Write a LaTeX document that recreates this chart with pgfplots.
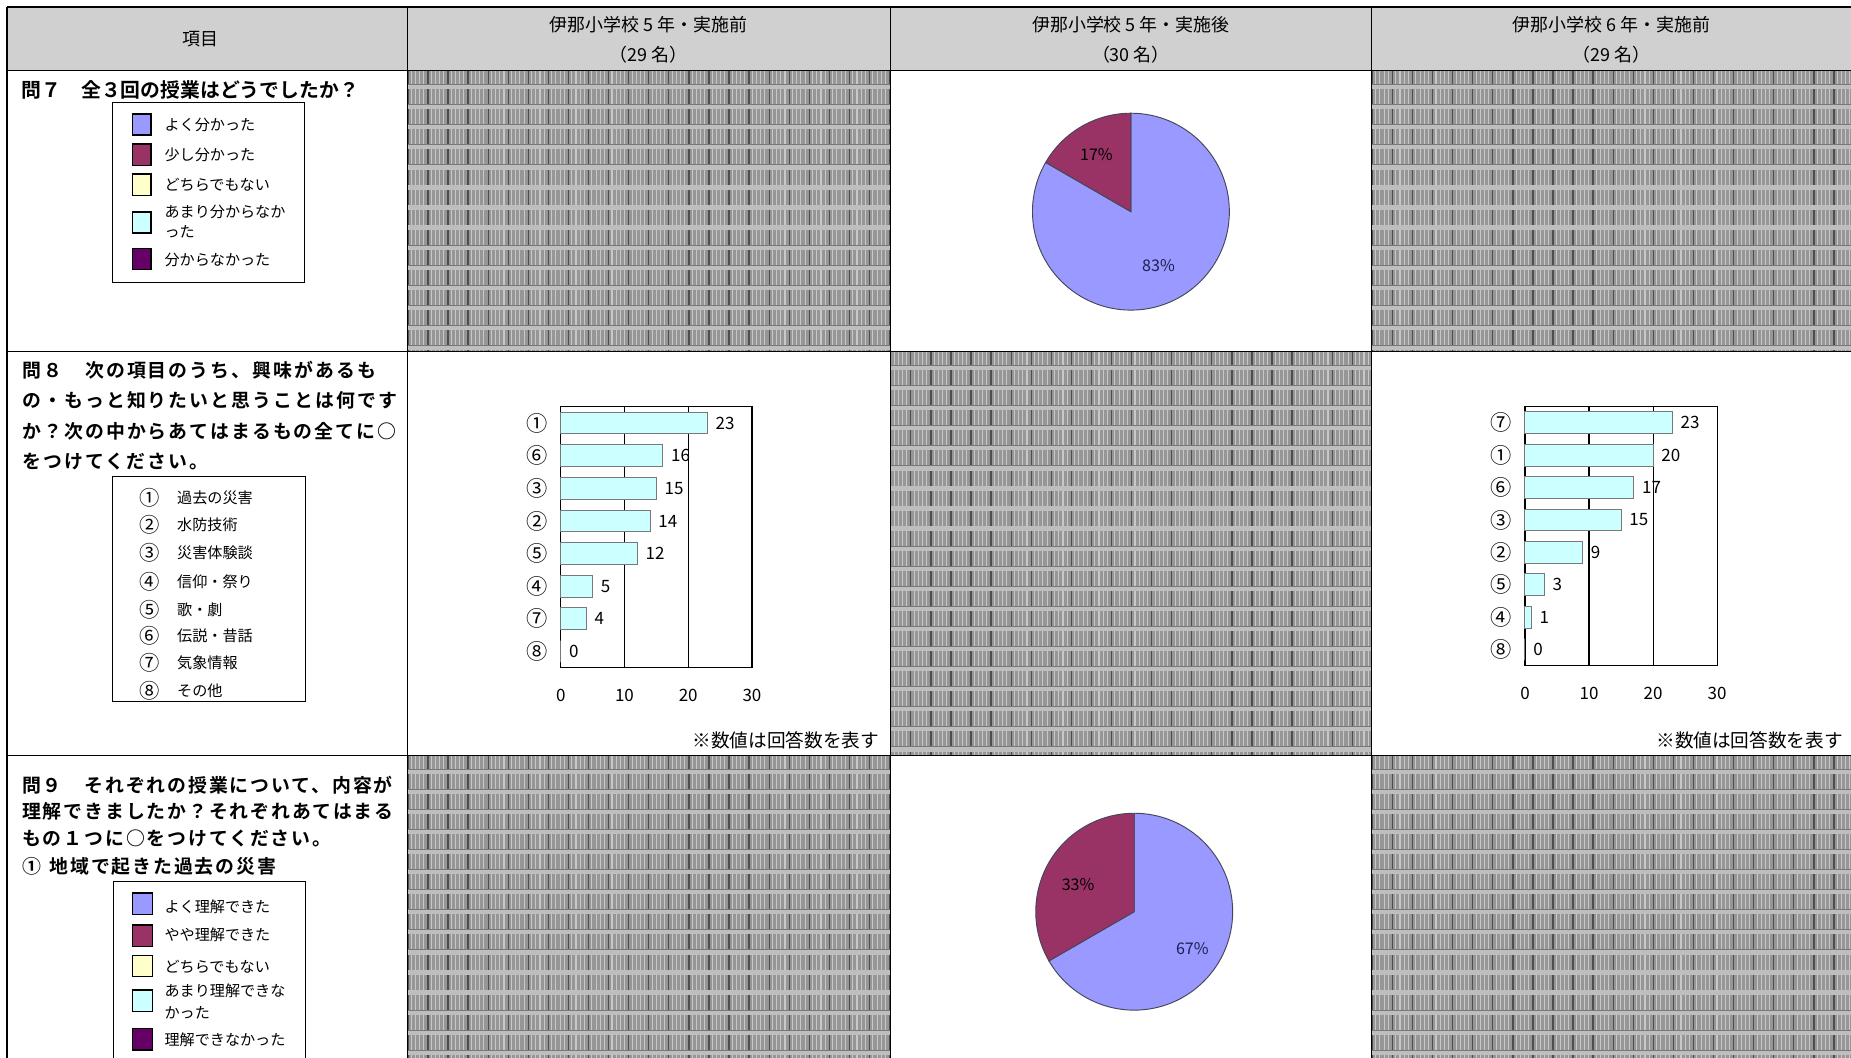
\documentclass[border=0pt]{standalone}
\usepackage{fontspec}
\setmainfont{Noto Sans CJK JP}
\newfontfamily\qb{Noto Sans CJK JP Bold}
\newfontfamily\qbA{Noto Sans CJK JP Bold}[LetterSpace=11]
\newfontfamily\qbB{Noto Sans CJK JP Bold}[LetterSpace=10]
\usepackage{pgfplots}
\pgfplotsset{compat=1.18}
\usepackage{pgfplotstable}

\definecolor{hdr}{RGB}{208,208,208}
\definecolor{pblue}{RGB}{153,153,255}
\definecolor{pmaroon}{RGB}{153,51,102}
\definecolor{pyellow}{RGB}{255,255,204}
\definecolor{pcyan}{RGB}{204,255,255}
\definecolor{ppurple}{RGB}{102,0,102}
\definecolor{bargray}{RGB}{120,120,120}
\definecolor{pedge}{RGB}{70,70,90}
\definecolor{navy}{RGB}{30,30,80}
\definecolor{patbase}{RGB}{150,150,150}
\definecolor{patdark}{RGB}{78,78,78}
\definecolor{patlight}{RGB}{200,200,200}
\definecolor{patband}{RGB}{190,190,190}
\definecolor{patbandedge}{RGB}{120,120,120}

\pgfplotstableread{
y lab val
0 ① 23
1 ⑥ 16
2 ③ 15
3 ② 14
4 ⑤ 12
5 ④ 5
6 ⑦ 4
7 ⑧ 0
}\barA
\pgfplotstableread{
y lab val
0 ⑦ 23
1 ① 20
2 ⑥ 17
3 ③ 15
4 ② 9
5 ⑤ 3
6 ④ 1
7 ⑧ 0
}\barB

\newcommand{\hatchcell}[4]{%
 \begin{scope}
 \clip (#1,#2) rectangle (#3,#4);
 \fill[patbase] (#1,#2) rectangle (#3,#4);
 \foreach \i in {0,...,24} {
   \pgfmathsetmacro\xx{#1+17*\i}
   \fill[patdark] (\xx,#2) rectangle ({\xx+1.1},#4);
   \fill[patlight] ({\xx+3},#2) rectangle ({\xx+3.9},#4);
   \fill[patlight] ({\xx+6.5},#2) rectangle ({\xx+7.4},#4);
   \fill[patlight] ({\xx+10},#2) rectangle ({\xx+10.9},#4);
   \fill[patlight] ({\xx+13.5},#2) rectangle ({\xx+14.4},#4);
 }
 \foreach \j in {0,...,20} {
   \pgfmathsetmacro\yy{#2+17*\j}
   \fill[patbandedge] (#1,{\yy+11.3}) rectangle (#3,{\yy+12});
   \fill[patband] (#1,{\yy+12}) rectangle (#3,{\yy+15.6});
 }
 \end{scope}}

\newcommand{\pieslice}[4]{%
 \filldraw[fill=#4,draw=pedge,line width=0.4pt] (axis cs:0,0) -- ++(#1:41.7pt)
   arc[start angle=#1, delta angle={-360*#2/#3}, radius=41.7pt] -- cycle;}

\tikzset{
 hd/.style={font=\fontsize{7.6}{9}\selectfont, inner sep=0pt, text height=6.7pt, text depth=0.9pt},
 lg/.style={font=\fontsize{6.4}{7.5}\selectfont, inner sep=0pt, anchor=west, text height=5.6pt, text depth=0.8pt},
 cn/.style={font=\fontsize{8.6}{9}\selectfont, inner sep=0pt, text height=7.5pt, text depth=1pt},
 sw/.style={draw=black, line width=0.6pt},
 pielbl/.style={font=\fontsize{6.8}{8}\selectfont, inner sep=0pt},
}

\begin{document}
\begin{tikzpicture}
\useasboundingbox (0,0) rectangle (784pt,448pt);
\clip (0,0) rectangle (784pt,448pt);
\begin{scope}[x=0.5pt,y=-0.5pt,shift={(0pt,448pt)}]
 % header
 \fill[hdr] (6,6) rectangle (1570,60);
 % hatched cells
 \hatchcell{345}{60}{754}{298}
 \hatchcell{1162}{60}{1570}{298}
 \hatchcell{754}{298}{1162}{640}
 \hatchcell{345}{640}{754}{900}
 \hatchcell{1162}{640}{1570}{900}
 % grid lines
 \draw[black, line width=0.5pt] (6,6) -- (1570,6);
 \draw[black, line width=0.5pt] (6,60) -- (1570,60);
 \draw[black, line width=0.5pt] (6,298) -- (1570,298);
 \draw[black, line width=0.5pt] (6,640) -- (1570,640);
 \foreach \cx in {6,345,754,1162} { \draw[black, line width=0.5pt] (\cx,6) -- (\cx,900); }
 % header text
 \node[hd] at (170,33) {項目};
 \node[hd] at (549.5,21) {伊那小学校 5 年・実施前};
 \node[hd] at (549.5,46.6) {（29 名）};
 \node[hd] at (958,21) {伊那小学校 5 年・実施後};
 \node[hd] at (958,46.6) {（30 名）};
 \node[hd] at (1365,21) {伊那小学校 6 年・実施前};
 \node[hd] at (1365,46.6) {（29 名）};
 % question 7
 \node[font=\qb\fontsize{8.4}{10}\selectfont, inner sep=0pt, anchor=west, text height=7.4pt, text depth=1pt] at (18,76) {問７　全３回の授業はどうでしたか？};
 \draw[black, line width=0.4pt] (95,87) rectangle (258,239);
 \fill[pblue,sw] (112,96.5) rectangle (128,114.5);
 \fill[pmaroon,sw] (112,122) rectangle (128,140);
 \fill[pyellow,sw] (112,147.5) rectangle (128,165.5);
 \fill[pcyan,sw] (112,179.5) rectangle (128,197.5);
 \fill[ppurple,sw] (112,210.5) rectangle (128,228.5);
 \node[lg] at (139,105.9) {よく分かった};
 \node[lg] at (139,131.3) {少し分かった};
 \node[lg] at (139,156.7) {どちらでもない};
 \node[lg] at (139,179.3) {あまり分からなか};
 \node[lg] at (139,196.8) {った};
 \node[lg] at (139,219.7) {分からなかった};
 % question 8
 \foreach \yy/\tt in {313.4/問８　次の項目のうち、興味があるも, 338.8/の・もっと知りたいと思うことは何です, 365.7/か？次の中からあてはまるもの全てに○, 391/をつけてください。} {
   \node[font=\qbA\fontsize{8}{10}\selectfont, inner sep=0pt, anchor=west, text height=7pt, text depth=1pt] at (18.4,\yy) {\tt};
 }
 \draw[black, line width=0.4pt] (95,404) rectangle (259,594);
 \foreach \yy/\nn/\tt in {421.6/①/過去の災害, 444.7/②/水防技術, 468.2/③/災害体験談, 492.7/④/信仰・祭り, 516.2/⑤/歌・劇, 538.8/⑥/伝説・昔話, 561.9/⑦/気象情報, 585/⑧/その他} {
   \node[cn] at (127,\yy) {\nn};
   \node[lg] at (149.7,\yy) {\tt};
 }
 \node[font=\fontsize{7.9}{9}\selectfont, inner sep=0pt, anchor=east, text height=6.9pt, text depth=1pt] at (745,627.4) {※数値は回答数を表す};
 \node[font=\fontsize{7.9}{9}\selectfont, inner sep=0pt, anchor=east, text height=6.9pt, text depth=1pt] at (1561.5,627.4) {※数値は回答数を表す};
 % question 9
 \foreach \yy/\tt in {665/問９　それぞれの授業について、内容が, 687.6/理解できましたか？それぞれあてはまる, 710/もの１つに○をつけてください。} {
   \node[font=\qbB\fontsize{8}{10}\selectfont, inner sep=0pt, anchor=west, text height=7pt, text depth=1pt] at (18.4,\yy) {\tt};
 }
 \node[font=\qbB\fontsize{8}{10}\selectfont, inner sep=0pt, anchor=west, text height=7pt, text depth=1pt] at (18.4,734) {①\hspace{0.45em}地域で起きた過去の災害};
 \draw[black, line width=0.4pt] (96,747) rectangle (259,910);
 \fill[pblue,sw] (112,756.6) rectangle (129,774.6);
 \fill[pmaroon,sw] (112,783.7) rectangle (129,801.7);
 \fill[pyellow,sw] (112,809.2) rectangle (129,827.2);
 \fill[pcyan,sw] (112,838.8) rectangle (129,856.8);
 \fill[ppurple,sw] (112,871.3) rectangle (129,889.3);
 \node[lg] at (139,768) {よく理解できた};
 \node[lg] at (139,792) {やや理解できた};
 \node[lg] at (139,819) {どちらでもない};
 \node[lg] at (139,839) {あまり理解できな};
 \node[lg] at (139,858) {かった};
 \node[lg] at (139,881) {理解できなかった};
\end{scope}

% ---- bar chart 1 (5年・実施前, 問8)
\begin{axis}[
 at={(237.5pt,165.2pt)}, anchor=south west, scale only axis,
 width=81pt, height=110.5pt,
 xbar, bar width=9.2pt, xmin=0, xmax=30, ymin=-0.5, ymax=7.5, y dir=reverse,
 xtick={0,10,20,30}, ytick={0,...,7}, yticklabels from table={\barA}{lab},
 xmajorgrids, major grid style={black, line width=0.5pt},
 major tick length=0pt, axis line style={black, line width=0.5pt},
 tick label style={font=\fontsize{7.2}{8}\selectfont},
 yticklabel style={font=\fontsize{9}{9}\selectfont},
 /pgf/number format/assume math mode=true,
 xticklabel shift=5.5pt, yticklabel shift=2pt,
 nodes near coords, nodes near coords style={font=\fontsize{7.2}{8}\selectfont, black},
 clip=false,
]
\addplot[fill=pcyan, draw=bargray, line width=0.4pt] table[x=val, y=y]{\barA};
\end{axis}

% ---- bar chart 2 (6年・実施前, 問8)
\begin{axis}[
 at={(645.9pt,166pt)}, anchor=south west, scale only axis,
 width=81.4pt, height=109.8pt,
 xbar, bar width=9.2pt, xmin=0, xmax=30, ymin=-0.5, ymax=7.5, y dir=reverse,
 xtick={0,10,20,30}, ytick={0,...,7}, yticklabels from table={\barB}{lab},
 xmajorgrids, major grid style={black, line width=0.5pt},
 major tick length=0pt, axis line style={black, line width=0.5pt},
 tick label style={font=\fontsize{7.2}{8}\selectfont},
 yticklabel style={font=\fontsize{9}{9}\selectfont},
 /pgf/number format/assume math mode=true,
 xticklabel shift=5.5pt, yticklabel shift=2pt,
 nodes near coords, nodes near coords style={font=\fontsize{7.2}{8}\selectfont, black},
 clip=false,
]
\addplot[fill=pcyan, draw=bargray, line width=0.4pt] table[x=val, y=y]{\barB};
\end{axis}

% ---- pie 1 (5年・実施後, 問7): 25 / 5 of 30
\begin{axis}[at={(479pt,358.35pt)}, anchor=center, scale only axis,
 width=83.4pt, height=83.4pt, xmin=-1, xmax=1, ymin=-1, ymax=1, hide axis, clip=false]
\pieslice{90}{25}{30}{pblue}
\pieslice{-210}{5}{30}{pmaroon}
\node[pielbl, text=black] at (axis cs:-0.35,0.58) {17\%};
\node[pielbl, text=navy] at (axis cs:0.28,-0.55) {83\%};
\end{axis}

% ---- pie 2 (5年・実施後, 問9①): 20 / 10 of 30
\begin{axis}[at={(480.4pt,61.85pt)}, anchor=center, scale only axis,
 width=83.4pt, height=83.4pt, xmin=-1, xmax=1, ymin=-1, ymax=1, hide axis, clip=false]
\pieslice{90}{20}{30}{pblue}
\pieslice{-150}{10}{30}{pmaroon}
\node[pielbl, text=black] at (axis cs:-0.57,0.28) {33\%};
\node[pielbl, text=navy] at (axis cs:0.59,-0.37) {67\%};
\end{axis}
\end{tikzpicture}
\end{document}
